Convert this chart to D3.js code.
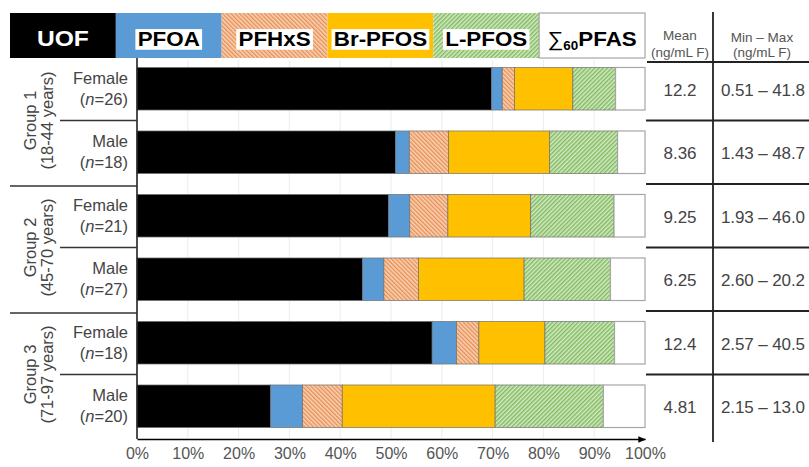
<!DOCTYPE html>
<html>
<head>
<meta charset="utf-8">
<script src="https://cdn.jsdelivr.net/npm/d3@7"></script>
<style>
  body { margin: 0; background: #fff; }
  svg { font-family: "Liberation Sans", Arial, sans-serif; }
</style>
</head>
<body>
<svg id="chart" width="809" height="467"></svg>
<script>
// rows, top to bottom
var groups = ["Group 1", "Group 2", "Group 3"];
var ageRanges = ["(18-44 years)", "(45-70 years)", "(71-97 years)"];
var sexes = ["Female", "Male", "Female", "Male", "Female", "Male"];
var nValues = [26, 18, 21, 27, 18, 20];

// share of each fraction, % of total
var uof = [69.8, 50.9, 49.5, 44.4, 58.1, 26.3];
var pfoa = [2.1, 2.7, 4.2, 4.2, 4.8, 6.3];
var pfhxs = [2.4, 7.7, 7.5, 6.8, 4.4, 7.8];
var brPfos = [11.5, 19.9, 16.3, 20.8, 13.0, 30.1];
var lPfos = [8.4, 13.4, 16.4, 17.0, 13.7, 21.3];
var otherPfas = [5.8, 5.4, 6.1, 6.8, 6.0, 8.2];

var means = ["12.2", "8.36", "9.25", "6.25", "12.4", "4.81"];
var ranges = ["0.51 \u2013 41.8", "1.43 \u2013 48.7", "1.93 \u2013 46.0",
              "2.60 \u2013 20.2", "2.57 \u2013 40.5", "2.15 \u2013 13.0"];

var keys = ["UOF", "PFOA", "PFHxS", "Br-PFOS", "L-PFOS", "PFAS"];
var fills = {
  "UOF": "#000000",
  "PFOA": "#5b9bd5",
  "PFHxS": "url(#hatchOrange)",
  "Br-PFOS": "#ffc000",
  "L-PFOS": "url(#hatchGreen)",
  "PFAS": "#ffffff"
};

var table = sexes.map(function(s, i) {
  return {
    row: i, "UOF": uof[i], "PFOA": pfoa[i], "PFHxS": pfhxs[i],
    "Br-PFOS": brPfos[i], "L-PFOS": lPfos[i], "PFAS": otherPfas[i]
  };
});

var svg = d3.select("#chart");
var txt = "#444";

/*** patterns ***/
var defs = svg.append("defs");
function hatch(id, bg, fg, angle) {
  var p = defs.append("pattern")
    .attr("id", id)
    .attr("patternUnits", "userSpaceOnUse")
    .attr("width", 3).attr("height", 3)
    .attr("patternTransform", "rotate(" + angle + ")");
  p.append("rect").attr("width", 3).attr("height", 3).attr("fill", bg);
  p.append("line").attr("x1", 0.75).attr("y1", 0).attr("x2", 0.75).attr("y2", 3)
    .attr("stroke", fg).attr("stroke-width", 1.3);
}
hatch("hatchOrange", "#f9d3b6", "#e58a4e", -45);
hatch("hatchGreen", "#d3eac3", "#79b556", 45);

defs.append("marker")
  .attr("id", "arrow")
  .attr("viewBox", "0 0 10 10")
  .attr("refX", 9).attr("refY", 5)
  .attr("markerWidth", 5).attr("markerHeight", 5)
  .attr("orient", "auto")
  .append("path").attr("d", "M0,1L10,5L0,9Z").attr("fill", "#000");

/*** scales ***/
var x = d3.scaleLinear().domain([0, 100]).range([137, 645]);
var y = d3.scaleBand()
  .domain(d3.range(sexes.length))
  .range([57, 438])
  .paddingInner(0.33)
  .paddingOuter(0.165);
var step = y.step();

// faint gridlines
svg.append("g")
  .selectAll("line")
  .data(d3.range(10, 100, 10))
  .join("line")
  .attr("x1", function(d) { return x(d); })
  .attr("x2", function(d) { return x(d); })
  .attr("y1", 60).attr("y2", 438)
  .attr("stroke", "#ececec").attr("stroke-width", 1);

/*** stacked bars ***/
var series = d3.stack().keys(keys)(table);

svg.append("g")
  .selectAll("g")
  .data(series)
  .join("g")
  .attr("fill", function(d) { return fills[d.key]; })
  .selectAll("rect")
  .data(function(d) { return d.map(function(v) { v.key = d.key; return v; }); })
  .join("rect")
  .attr("x", function(d) { return x(d[0]); })
  .attr("y", function(d) { return y(d.data.row); })
  .attr("width", function(d) { return x(d[1]) - x(d[0]); })
  .attr("height", y.bandwidth())
  .attr("stroke", function(d) { return d.key === "PFAS" ? "#a6a6a6" : "#6f6f6f"; })
  .attr("stroke-width", function(d) { return d.key === "PFAS" ? 1.2 : 0.7; });

/*** x axis ***/
var xAxis = d3.axisBottom(x)
  .tickValues(d3.range(0, 101, 10))
  .tickFormat(function(d) { return d + "%"; })
  .tickSize(0)
  .tickPadding(9);

var gx = svg.append("g")
  .attr("transform", "translate(0,439)")
  .call(xAxis);
gx.select(".domain")
  .attr("stroke", "#000").attr("stroke-width", 1.6)
  .attr("marker-end", "url(#arrow)");
gx.selectAll("text")
  .attr("font-family", "Liberation Sans, Arial, sans-serif")
  .attr("font-size", 16).attr("fill", "#555");

// y axis line
svg.append("line")
  .attr("x1", 137).attr("x2", 137)
  .attr("y1", 58).attr("y2", 439)
  .attr("stroke", "#222").attr("stroke-width", 1.6);

/*** left labels ***/
var rowLabels = svg.append("g")
  .selectAll("text")
  .data(sexes)
  .join("text")
  .attr("text-anchor", "end")
  .attr("fill", txt)
  .attr("font-size", 16.5)
  .attr("transform", function(d, i) {
    return "translate(128," + (y(i) + y.bandwidth() / 2) + ")";
  });
rowLabels.append("tspan").attr("x", 0).attr("y", -5).text(function(d) { return d; });
rowLabels.append("tspan").attr("x", 0).attr("y", 16)
  .each(function(d, i) {
    var t = d3.select(this);
    t.append("tspan").text("(");
    t.append("tspan").attr("font-style", "italic").text("n");
    t.append("tspan").text("=" + nValues[i] + ")");
  });

var groupLabels = svg.append("g")
  .selectAll("text")
  .data(groups)
  .join("text")
  .attr("text-anchor", "middle")
  .attr("fill", txt)
  .attr("font-size", 16.5)
  .attr("transform", function(d, i) {
    var cy = (y(i * 2) + y(i * 2 + 1) + y.bandwidth()) / 2;
    return "translate(0," + cy + ") rotate(-90)";
  });
groupLabels.append("tspan").attr("x", 0).attr("y", 36).text(function(d) { return d; });
groupLabels.append("tspan").attr("x", 0).attr("y", 53).text(function(d, i) { return ageRanges[i]; });

// separators
function rowEdge(i) { return y(i) - step * y.paddingInner() / 2; }
var lines = svg.append("g").attr("stroke", "#333").attr("stroke-width", 1.6);
[1, 3, 5].forEach(function(i) {
  lines.append("line").attr("x1", 60).attr("x2", 137)
    .attr("y1", rowEdge(i)).attr("y2", rowEdge(i));
});
[2, 4].forEach(function(i) {
  lines.append("line").attr("x1", 10).attr("x2", 137)
    .attr("y1", rowEdge(i) + 2).attr("y2", rowEdge(i) + 2);
});

/*** right table ***/
var tbl = svg.append("g");
tbl.append("line").attr("x1", 713).attr("x2", 713).attr("y1", 12).attr("y2", 442)
  .attr("stroke", "#222").attr("stroke-width", 1.8);
tbl.append("line").attr("x1", 647).attr("x2", 809).attr("y1", 62).attr("y2", 62)
  .attr("stroke", "#222").attr("stroke-width", 1.8);
d3.range(1, 6).forEach(function(i) {
  tbl.append("line").attr("x1", 646).attr("x2", 809)
    .attr("y1", rowEdge(i)).attr("y2", rowEdge(i))
    .attr("stroke", "#222").attr("stroke-width", 1.8);
});

var hdr = tbl.append("g").attr("fill", "#555").attr("font-size", 13.5).attr("text-anchor", "middle");
hdr.append("text").attr("x", 680).attr("y", 40).text("Mean");
hdr.append("text").attr("x", 680).attr("y", 57).text("(ng/mL F)");
hdr.append("text").attr("x", 762).attr("y", 42).text("Min \u2013 Max");
hdr.append("text").attr("x", 762).attr("y", 57).text("(ng/mL F)");

tbl.append("g")
  .selectAll("text")
  .data(means)
  .join("text")
  .attr("x", 680)
  .attr("y", function(d, i) { return y(i) + y.bandwidth() / 2 + 7; })
  .attr("text-anchor", "middle")
  .attr("font-size", 17).attr("fill", txt)
  .text(function(d) { return d; });

tbl.append("g")
  .selectAll("text")
  .data(ranges)
  .join("text")
  .attr("x", 763)
  .attr("y", function(d, i) { return y(i) + y.bandwidth() / 2 + 7; })
  .attr("text-anchor", "middle")
  .attr("font-size", 17).attr("fill", txt)
  .attr("textLength", 84)
  .text(function(d) { return d; });

/*** legend band on top ***/
var legendX = d3.scaleBand().domain(keys).range([10, 645]);
var legend = svg.append("g");
legend.selectAll("rect")
  .data(keys)
  .join("rect")
  .attr("x", function(d) { return legendX(d); })
  .attr("y", 13)
  .attr("width", legendX.bandwidth())
  .attr("height", 45)
  .attr("fill", function(d) { return fills[d]; })
  .attr("stroke", function(d) { return d === "PFAS" ? "#a6a6a6" : "none"; })
  .attr("stroke-width", 1.2);

var labelG = legend.selectAll("g.lab")
  .data(keys)
  .join("g")
  .attr("class", "lab")
  .attr("transform", function(d) {
    return "translate(" + (legendX(d) + legendX.bandwidth() / 2) + ",46) scale(1.12,1)";
  });

labelG.each(function(d) {
  var g = d3.select(this);
  var t = g.append("text")
    .attr("text-anchor", "middle")
    .attr("font-weight", "bold")
    .attr("font-size", d === "UOF" ? 22 : 20)
    .attr("fill", d === "UOF" ? "#fff" : "#000");
  if (d === "PFAS") {
    t.append("tspan").attr("font-weight", "normal").text("\u2211");
    t.append("tspan").attr("font-size", 12).attr("dy", 4).text("60");
    t.append("tspan").attr("dy", -4).text("PFAS");
  } else {
    t.text(d);
  }
  if (d !== "UOF" && d !== "PFAS") {
    var b = t.node().getBBox();
    g.insert("rect", "text")
      .attr("x", b.x - 2).attr("y", b.y + 1)
      .attr("width", b.width + 4).attr("height", b.height - 1)
      .attr("fill", "#fff");
  }
});
</script>
</body>
</html>
